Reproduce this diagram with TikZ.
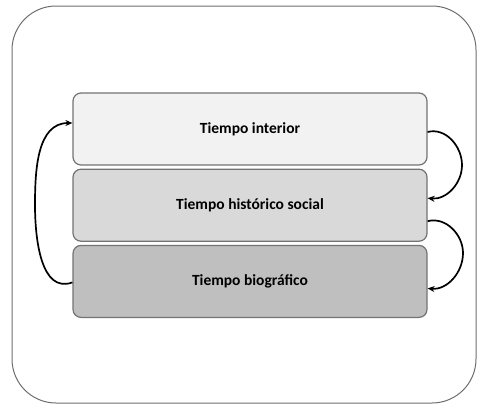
\documentclass[tikz,border=0pt]{standalone}
\usepackage{fontspec}
\setmainfont{Carlito}
\usepackage{xcolor}
\definecolor{framegray}{RGB}{110, 110, 110}
\definecolor{edgegray}{RGB}{115, 115, 115}
\usetikzlibrary{arrows.meta, positioning, calc}

\begin{document}
\begin{tikzpicture}[
    x=1pt, y=-1pt,
    node distance=3pt,
    layer/.style={rectangle, draw=edgegray, line width=1.2pt,
                minimum width=354pt, minimum height=72pt, align=center,
                rounded corners=8pt, font=\fontsize{15.5}{18}\selectfont\bfseries},
    loop/.style={-{Stealth[length=7pt, width=6pt]}, line width=1.7pt, black}
]
    \useasboundingbox (0,0) rectangle (477,405);
    % outer frame
    \draw[framegray, line width=1pt, rounded corners=44pt] (12,6) rectangle (476,403);

    \node[layer, fill=black!5] (interior) at (250,129) {Tiempo interior};
    \node[layer, fill=black!15, below=of interior] (social) {Tiempo histórico social};
    \node[layer, fill=black!25, below=of social] (bio) {Tiempo biográfico};

    % y grows downwards, but out/in angles stay on the page
    \coordinate (leftmid) at (35,205);
    \coordinate (rightA) at (462,165);
    \coordinate (rightB) at (463,253);

    \draw[loop] ($(bio.west)+(0,1)$) to[out=200, in=-90] (leftmid)
        to[out=90, in=180] ($(interior.west)+(0,-6)$);
    \draw[loop] ($(interior.east)+(0,3)$) to[out=15, in=90] (rightA)
        to[out=-90, in=-5] ($(social.east)+(0,-7)$);
    \draw[loop] ($(social.east)+(0,16)$) to[out=15, in=90] (rightB)
        to[out=-90, in=-5] ($(bio.east)+(0,7)$);
\end{tikzpicture}
\end{document}
